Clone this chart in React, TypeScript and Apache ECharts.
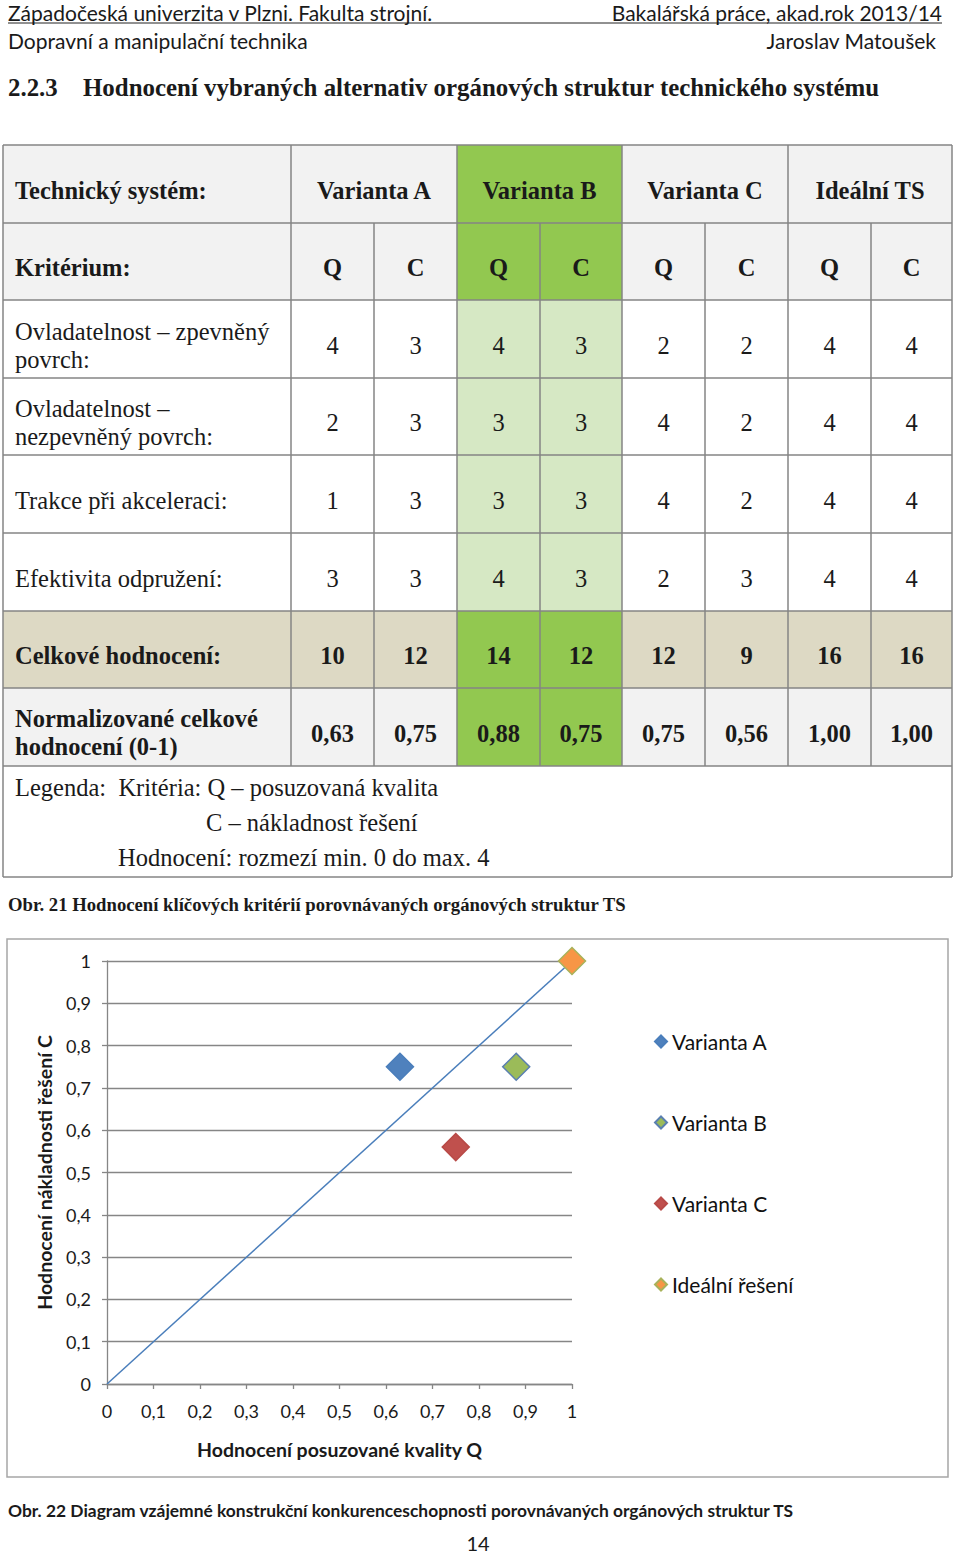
import React, { useEffect, useRef } from "react";
import * as echarts from "echarts";

// ---------- data ----------
const headerLeft1 = "Západočeská univerzita v Plzni. Fakulta strojní.";
const headerRight1 = "Bakalářská práce, akad.rok 2013/14";
const headerLeft2 = "Dopravní a manipulační technika";
const headerRight2 = "Jaroslav Matoušek";
const sectionNumber = "2.2.3";
const sectionTitle = "Hodnocení vybraných alternativ orgánových struktur technického systému";

const variants = ["Varianta A", "Varianta B", "Varianta C", "Ideální TS"];
const criteriaCodes = ["Q", "C", "Q", "C", "Q", "C", "Q", "C"];
const criteriaNames = [
  "Ovladatelnost – zpevněný\npovrch:",
  "Ovladatelnost –\nnezpevněný povrch:",
  "Trakce při akceleraci:",
  "Efektivita odpružení:",
];
const scores = [
  [4, 3, 4, 3, 2, 2, 4, 4],
  [2, 3, 3, 3, 4, 2, 4, 4],
  [1, 3, 3, 3, 4, 2, 4, 4],
  [3, 3, 4, 3, 2, 3, 4, 4],
];
const totals = [10, 12, 14, 12, 12, 9, 16, 16];
const normalized = ["0,63", "0,75", "0,88", "0,75", "0,75", "0,56", "1,00", "1,00"];
const legendLines = [
  "Legenda:  Kritéria: Q – posuzovaná kvalita",
  "C – nákladnost řešení",
  "Hodnocení: rozmezí min. 0 do max. 4",
];
const caption21 = "Obr. 21 Hodnocení klíčových kritérií porovnávaných orgánových struktur TS";
const caption22 = "Obr. 22 Diagram vzájemné konstrukční konkurenceschopnosti porovnávaných orgánových struktur TS";
const pageNumber = "14";

const seriesNames = ["Varianta A", "Varianta B", "Varianta C", "Ideální řešení"];
const qualityQ = [0.63, 0.88, 0.75, 1.0];
const costC = [0.75, 0.75, 0.56, 1.0];
const diagonal = [
  [0, 0],
  [1, 1],
];
const xAxisTitle = "Hodnocení posuzované kvality Q";
const yAxisTitle = "Hodnocení nákladnosti řešení C";

// ---------- styles ----------
const fills = ["#4f81bd", "#9bbb59", "#c0504d", "#f79646"];
const borders = ["#4a7ebb", "#5a7fb0", "#b84a47", "#a8b25a"];
const SERIF = "'Liberation Serif', 'Times New Roman', serif";
const SANS = "Lato, 'Open Sans', sans-serif";

const colX = [3, 291, 374, 457, 540, 622, 705, 788, 871, 952];
const rowY = [145, 223, 300, 378, 455, 533, 611, 688, 766, 877];
const GRAY = "#f2f2f2";
const GREEN = "#92c850";
const LIGHTGREEN = "#d6e8c4";
const BEIGE = "#ddd9c4";
const LINE = "#858585";
const TABLE_FS = 24.5;

function buildGraphics(): any[] {
  const g: any[] = [];
  const txt = (x: number, y: number, text: string, opts: any = {}) => ({
    type: "text",
    silent: true,
    z: 10,
    style: {
      x,
      y,
      text,
      fill: "#1a1a1a",
      fontFamily: opts.fontFamily || SERIF,
      fontSize: opts.fontSize || TABLE_FS,
      fontWeight: opts.fontWeight || "normal",
      align: opts.align || "left",
      verticalAlign: "middle",
      lineHeight: opts.lineHeight || 28,
    },
  });
  const rect = (x: number, y: number, w: number, h: number, fill: string) => ({
    type: "rect",
    silent: true,
    z: 1,
    shape: { x, y, width: w, height: h },
    style: { fill },
  });
  const line = (x1: number, y1: number, x2: number, y2: number, color = LINE, w = 1.5) => ({
    type: "line",
    silent: true,
    z: 5,
    shape: { x1, y1, x2, y2 },
    style: { stroke: color, lineWidth: w },
  });

  // page header
  g.push(txt(8, 12, headerLeft1, { fontFamily: SANS, fontSize: 21 }));
  g.push(txt(942, 12, headerRight1, { fontFamily: SANS, fontSize: 21, align: "right" }));
  g.push(line(8, 23, 942, 23, "#222", 1));
  g.push(txt(8, 40, headerLeft2, { fontFamily: SANS, fontSize: 21 }));
  g.push(txt(936, 40, headerRight2, { fontFamily: SANS, fontSize: 21, align: "right" }));
  g.push(txt(8, 87, sectionNumber, { fontSize: 24.9, fontWeight: "bold" }));
  g.push(txt(83, 87, sectionTitle, { fontSize: 24.9, fontWeight: "bold" }));

  // backgrounds
  const rowBg = [GRAY, GRAY, "#fff", "#fff", "#fff", "#fff", BEIGE, GRAY];
  for (let r = 0; r < 8; r++) {
    g.push(rect(colX[0], rowY[r], colX[9] - colX[0], rowY[r + 1] - rowY[r], rowBg[r]));
    const bFill = r < 2 || r >= 6 ? GREEN : LIGHTGREEN;
    g.push(rect(colX[3], rowY[r], colX[5] - colX[3], rowY[r + 1] - rowY[r], bFill));
  }

  // lines
  for (let r = 0; r <= 9; r++) g.push(line(colX[0], rowY[r], colX[9], rowY[r]));
  g.push(line(colX[0], rowY[0], colX[0], rowY[9]));
  g.push(line(colX[9], rowY[0], colX[9], rowY[9]));
  for (let c = 1; c <= 8; c++) {
    const top = c % 2 === 1 ? rowY[0] : rowY[1];
    g.push(line(colX[c], top, colX[c], rowY[8]));
  }

  const centerY = (r: number) => (rowY[r] + rowY[r + 1]) / 2 + 6;
  const centerX = (c: number) => (colX[c + 1] + colX[c + 2]) / 2;

  // header rows
  g.push(txt(15, centerY(0), "Technický systém:", { fontWeight: "bold" }));
  variants.forEach((v, i) => {
    g.push(txt((colX[1 + i * 2] + colX[3 + i * 2]) / 2, centerY(0), v, { fontWeight: "bold", align: "center" }));
  });
  g.push(txt(15, centerY(1), "Kritérium:", { fontWeight: "bold" }));
  criteriaCodes.forEach((c, i) => {
    g.push(txt(centerX(i), centerY(1), c, { fontWeight: "bold", align: "center" }));
  });

  // score rows
  criteriaNames.forEach((name, r) => {
    g.push(txt(15, centerY(2 + r), name));
    scores[r].forEach((v, i) => {
      g.push(txt(centerX(i), centerY(2 + r), String(v), { align: "center" }));
    });
  });

  g.push(txt(15, centerY(6), "Celkové hodnocení:", { fontWeight: "bold" }));
  totals.forEach((v, i) => g.push(txt(centerX(i), centerY(6), String(v), { fontWeight: "bold", align: "center" })));
  g.push(txt(15, centerY(7) - 1, "Normalizované celkové\nhodnocení (0-1)", { fontWeight: "bold" }));
  normalized.forEach((v, i) => g.push(txt(centerX(i), centerY(7), v, { fontWeight: "bold", align: "center" })));

  // legend of table
  g.push(txt(15, 787, legendLines[0]));
  g.push(txt(206, 822, legendLines[1]));
  g.push(txt(118, 857, legendLines[2]));

  g.push(txt(8, 904, caption21, { fontSize: 18.7, fontWeight: "bold" }));

  // chart frame
  g.push({
    type: "rect",
    silent: true,
    z: 0,
    shape: { x: 7, y: 939, width: 941, height: 538 },
    style: { fill: "#fff", stroke: "#a6a6a6", lineWidth: 1.5 },
  });

  g.push(txt(8, 1510, caption22, { fontFamily: SANS, fontSize: 17.4, fontWeight: "bold" }));
  g.push(txt(478, 1543, pageNumber, { fontFamily: SANS, fontSize: 20, align: "center" }));
  return g;
}

export default function App() {
  const ref = useRef<HTMLDivElement>(null);
  useEffect(() => {
    if (!ref.current) return;
    const chart = echarts.init(ref.current, undefined, { renderer: "svg" });
    const fmt = (v: number) => String(Math.round(v * 10) / 10).replace(".", ",");
    const axisCommon = {
      type: "value",
      min: 0,
      max: 1,
      interval: 0.1,
      axisLine: { show: true, lineStyle: { color: "#868686", width: 1.3 } },
      axisTick: { show: true, inside: false, length: 5, lineStyle: { color: "#868686", width: 1.3 } },
      nameLocation: "middle",
      nameTextStyle: { fontFamily: SANS, fontSize: 19.5, fontWeight: "bold", color: "#1a1a1a" },
    };
    const labelCommon = { formatter: fmt, color: "#1a1a1a", fontFamily: SANS, fontSize: 18 };
    chart.setOption({
      animation: false,
      backgroundColor: "#fff",
      graphic: { elements: buildGraphics() },
      grid: { left: 107, top: 961, width: 465, height: 423, containLabel: false },
      xAxis: {
        ...axisCommon,
        name: xAxisTitle,
        nameGap: 55,
        axisLabel: { ...labelCommon, margin: 18 },
        splitLine: { show: false },
      },
      yAxis: {
        ...axisCommon,
        name: yAxisTitle,
        nameGap: 53,
        nameRotate: 90,
        axisLabel: { ...labelCommon, margin: 16 },
        splitLine: { show: true, lineStyle: { color: "#868686", width: 1.3 } },
      },
      legend: {
        data: seriesNames,
        orient: "vertical",
        left: 649,
        top: 1026,
        itemGap: 60,
        itemWidth: 12,
        itemHeight: 12,
        icon: "diamond",
        textStyle: { fontFamily: SANS, fontSize: 21, color: "#111", lineHeight: 20 },
      },
      series: [
        {
          type: "line",
          name: "diagonála",
          data: diagonal,
          symbol: "none",
          lineStyle: { color: "#4a7ebb", width: 1.5 },
          z: 2,
        },
        ...seriesNames.map((name, i) => ({
          type: "scatter",
          name,
          symbol: "diamond",
          symbolSize: 27,
          data: [[qualityQ[i], costC[i]]],
          itemStyle: { color: fills[i], borderColor: borders[i], borderWidth: 1.5, opacity: 1 },
          z: 3,
        })),
      ],
    });
    return () => chart.dispose();
  }, []);
  return (
    <div
      ref={ref}
      style={{ position: "absolute", left: 0, top: 0, width: 960, height: 1554, background: "#fff" }}
    />
  );
}
